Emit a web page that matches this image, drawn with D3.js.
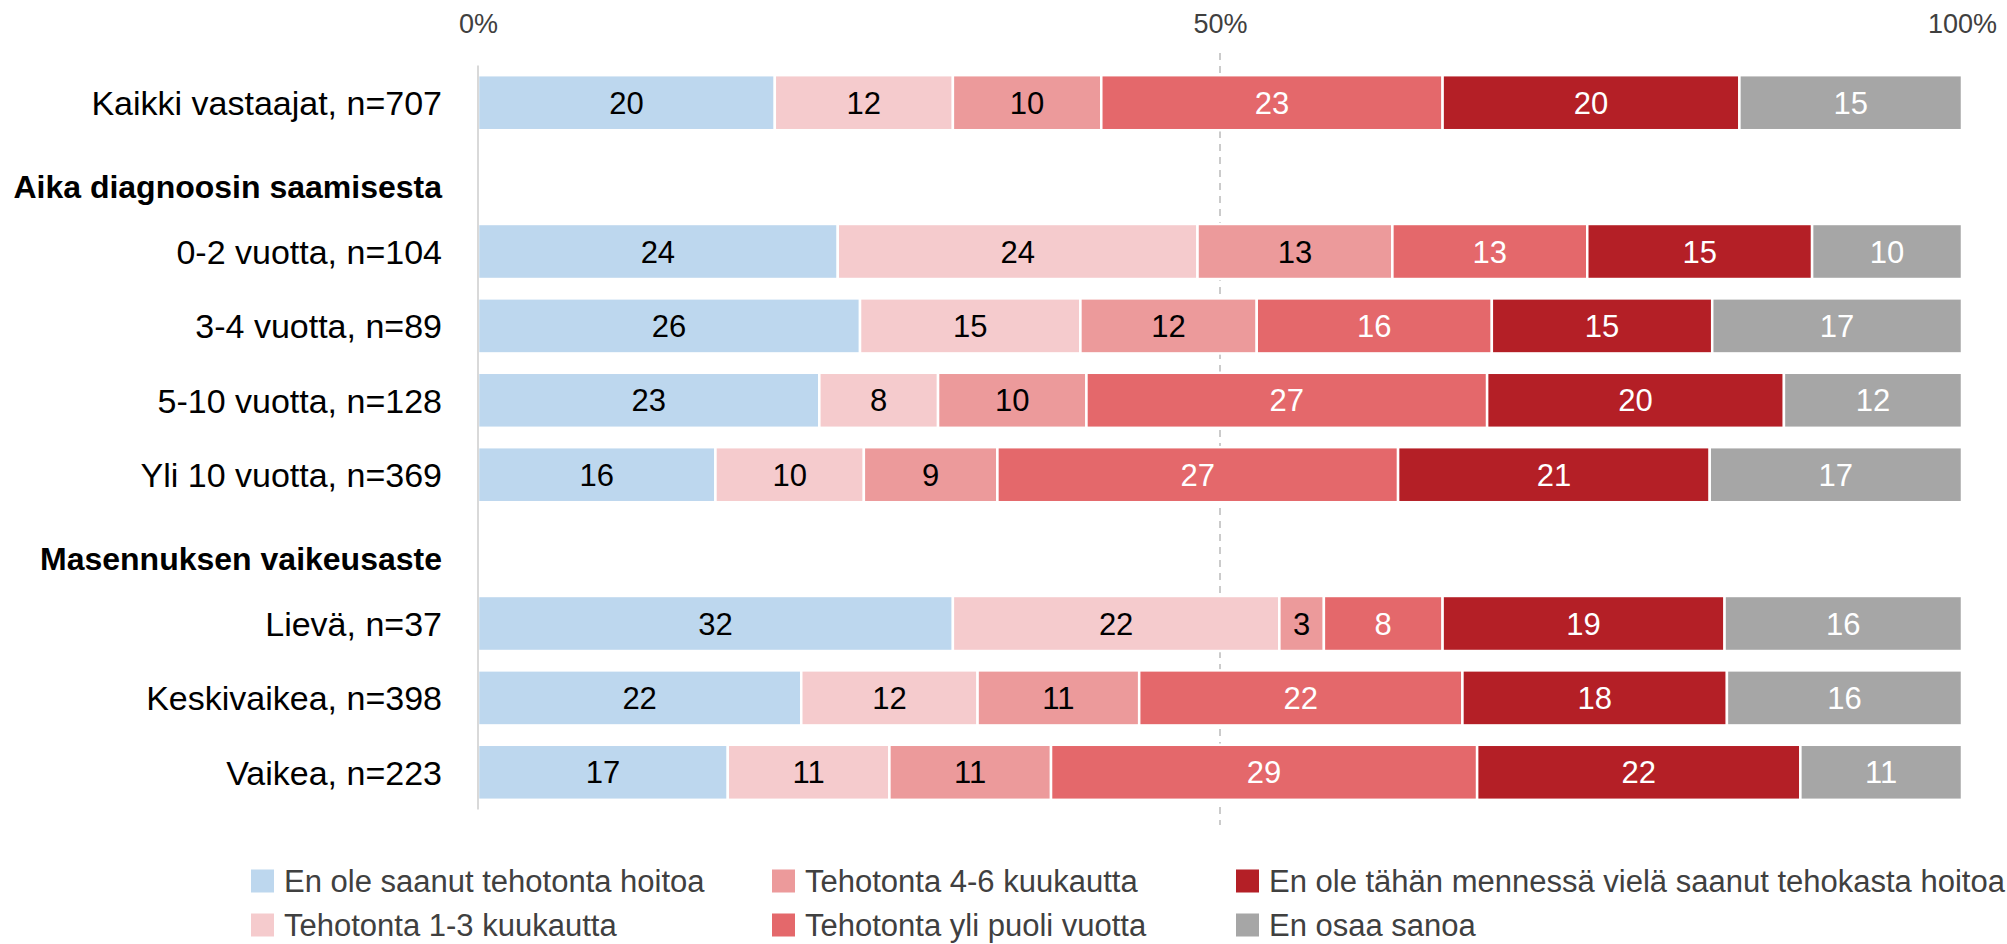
<!DOCTYPE html>
<html lang="fi">
<head>
<meta charset="utf-8">
<script src="https://cdn.jsdelivr.net/npm/d3@7"></script>
<style>
  html, body { margin: 0; padding: 0; background: #fff; }
  svg { display: block; font-family: "Liberation Sans", Arial, sans-serif; }
</style>
</head>
<body>
<svg id="chart" width="2007" height="944"></svg>
<script>
// Row labels in display order; the two group headings carry no bars.
const rowLabels = [
  "Kaikki vastaajat, n=707",
  "Aika diagnoosin saamisesta",
  "0-2 vuotta, n=104",
  "3-4 vuotta, n=89",
  "5-10 vuotta, n=128",
  "Yli 10 vuotta, n=369",
  "Masennuksen vaikeusaste",
  "Lievä, n=37",
  "Keskivaikea, n=398",
  "Vaikea, n=223"
];
const headingRows = ["Aika diagnoosin saamisesta", "Masennuksen vaikeusaste"];
const dataRows = rowLabels.filter(r => !headingRows.includes(r));

const seriesNames = [
  "En ole saanut tehotonta hoitoa",
  "Tehotonta 1-3 kuukautta",
  "Tehotonta 4-6 kuukautta",
  "Tehotonta yli puoli vuotta",
  "En ole tähän mennessä vielä saanut tehokasta hoitoa",
  "En osaa sanoa"
];
const seriesColors = ["#bdd7ee", "#f5cbcd", "#ec9a9b", "#e4686b", "#b41f26", "#a6a6a6"];
const labelColors  = ["#000000", "#000000", "#000000", "#ffffff", "#ffffff", "#ffffff"];

// Percentages per data row (same order as dataRows)
const noIneffective   = [20, 24, 26, 23, 16, 32, 22, 17];
const ineffective1to3 = [12, 24, 15,  8, 10, 22, 12, 11];
const ineffective4to6 = [10, 13, 12, 10,  9,  3, 11, 11];
const ineffectiveOver = [23, 13, 16, 27, 27,  8, 22, 29];
const noEffectiveYet  = [20, 15, 15, 20, 21, 19, 18, 22];
const cannotSay       = [15, 10, 17, 12, 17, 16, 16, 11];

const tickValues = [0, 0.5, 1];
const tickLabels = ["0%", "50%", "100%"];

const seriesValues = [noIneffective, ineffective1to3, ineffective4to6, ineffectiveOver, noEffectiveYet, cannotSay];

// Table for the stack generator
const table = dataRows.map((row, i) => {
  const o = { row };
  seriesNames.forEach((s, k) => { o[s] = seriesValues[k][i]; });
  return o;
});

const stacked = d3.stack()
  .keys(seriesNames)
  .offset(d3.stackOffsetExpand)(table);

const svg = d3.select("#chart");

const x = d3.scaleLinear().domain([0, 1]).range([478, 1962]);
const y = d3.scaleBand().domain(rowLabels).range([65.5, 809.5])
  .paddingInner(0.26).paddingOuter(0.13);

// 50 % reference line
svg.append("line")
  .attr("x1", x(0.5)).attr("x2", x(0.5))
  .attr("y1", 53).attr("y2", 825)
  .attr("stroke", "#bfbfbf").attr("stroke-width", 1.6)
  .attr("stroke-dasharray", "7,6");

// Value axis labels on top
const xAxis = d3.axisTop(x).tickValues(tickValues)
  .tickFormat((d, i) => tickLabels[i]).tickSize(0).tickPadding(0);
const gx = svg.append("g").attr("transform", "translate(0,33)").call(xAxis);
gx.select(".domain").remove();
gx.selectAll("text")
  .attr("dy", 0)
  .attr("font-size", 27)
  .attr("font-family", "'Liberation Sans', Arial, sans-serif")
  .attr("fill", "#404040");

// Bars
const layers = svg.append("g").selectAll("g")
  .data(stacked).join("g")
  .attr("fill", (d, i) => seriesColors[i]);

layers.selectAll("rect")
  .data(d => d).join("rect")
  .attr("x", d => x(d[0]))
  .attr("y", d => y(d.data.row))
  .attr("width", d => x(d[1]) - x(d[0]))
  .attr("height", y.bandwidth())
  .attr("stroke", "#ffffff")
  .attr("stroke-width", 2.5);

// Value labels inside segments
layers.each(function(layer, i) {
  d3.select(this).selectAll("text")
    .data(layer).join("text")
    .attr("x", d => (x(d[0]) + x(d[1])) / 2)
    .attr("y", d => y(d.data.row) + y.bandwidth() / 2)
    .attr("dy", "0.36em")
    .attr("text-anchor", "middle")
    .attr("font-size", 31)
    .attr("fill", labelColors[i])
    .text(d => d.data[layer.key]);
});

// Category axis line
svg.append("line")
  .attr("x1", x(0)).attr("x2", x(0))
  .attr("y1", y.range()[0]).attr("y2", y.range()[1])
  .attr("stroke", "#d9d9d9").attr("stroke-width", 2);

// Row labels and group headings
svg.append("g").selectAll("text")
  .data(rowLabels).join("text")
  .attr("x", 442)
  .attr("y", d => y(d) + y.bandwidth() / 2 + (headingRows.includes(d) ? 9 : 0))
  .attr("dy", "0.36em")
  .attr("text-anchor", "end")
  .attr("font-size", d => headingRows.includes(d) ? 32 : 34)
  .attr("font-weight", d => headingRows.includes(d) ? "bold" : "normal")
  .attr("fill", "#000")
  .text(d => d);

// Legend: three columns, two rows, filled column by column
const legendCols = [251, 772, 1236];
const legendRows = [881, 925];
const legend = svg.append("g").selectAll("g")
  .data(seriesNames).join("g")
  .attr("transform", (d, i) => `translate(${legendCols[Math.floor(i / 2)]},${legendRows[i % 2]})`);
legend.append("rect")
  .attr("x", 0).attr("y", -11.5)
  .attr("width", 23).attr("height", 23)
  .attr("fill", (d, i) => seriesColors[i]);
legend.append("text")
  .attr("x", 33).attr("y", 0).attr("dy", "0.36em")
  .attr("font-size", 31)
  .attr("fill", "#404040")
  .text(d => d);
</script>
</body>
</html>
